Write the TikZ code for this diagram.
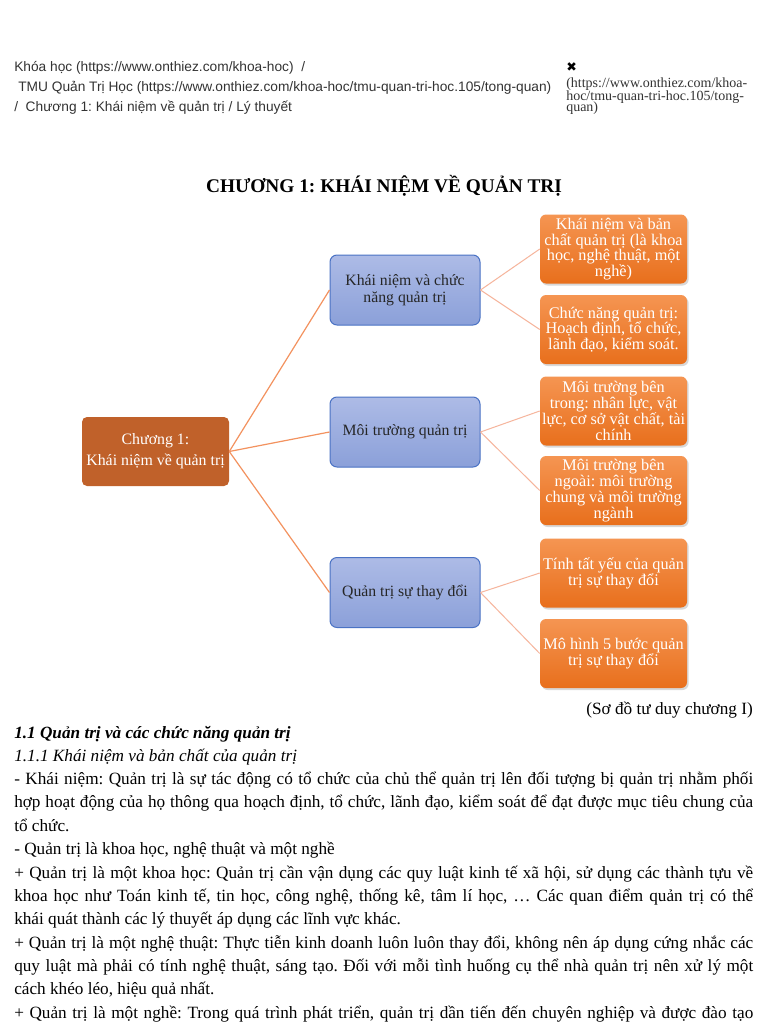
\documentclass[tikz,border=0pt]{standalone}
\usepackage{fontspec}
\setmainfont{Liberation Serif}
\newfontfamily\hdrfont{Liberation Sans}
\newfontfamily\symfont{DejaVu Sans}
\usetikzlibrary{positioning, shadows}
\newdimen\px \px=0.75pt
\definecolor{rootorange}{HTML}{C0612A}
\definecolor{topictop}{HTML}{ADBBE6}
\definecolor{topicbot}{HTML}{8BA0D9}
\definecolor{topicedge}{HTML}{4A72C4}
\definecolor{leaftop}{HTML}{F59552}
\definecolor{leafbot}{HTML}{E86F1C}
\definecolor{rootlink}{HTML}{F3925F}
\definecolor{leaflink}{HTML}{F6B59C}
\definecolor{hdrgray}{HTML}{333333}
\tikzset{
    % Mind map boxes
    root box/.style={rectangle, rounded corners=5\px, fill=rootorange, text=white,
                     minimum width=147\px, minimum height=69\px, align=center, inner sep=1pt,
                     font=\fontsize{11.9pt}{15.8pt}\selectfont},
    topic box/.style={rectangle, rounded corners=7\px, top color=topictop, bottom color=topicbot,
                      draw=topicedge, line width=1\px, minimum width=150\px, minimum height=70\px,
                      align=center, text=black!85, font=\fontsize{11.8pt}{12.8pt}\selectfont},
    leaf box/.style={rectangle, rounded corners=6\px, top color=leaftop, bottom color=leafbot,
                     text=white, minimum width=147\px, minimum height=69\px, align=center,
                     inner sep=1pt, font=\fontsize{12.2pt}{11.8pt}\selectfont,
                     drop shadow={shadow xshift=1.2pt, shadow yshift=-1.5pt, opacity=0.3}},
    % Connector styles
    root link/.style={draw=rootlink, line width=1.2\px},
    leaf link/.style={draw=leaflink, line width=1\px},
    % Text styles
    hdr/.style={font=\hdrfont\fontsize{10.3pt}{12pt}\selectfont, anchor=base west, inner sep=0pt, text=hdrgray},
    hdr side/.style={font=\fontsize{10.5pt}{9pt}\selectfont, anchor=base west, inner sep=0pt, text=hdrgray},
    body/.style={font=\fontsize{12.9pt}{15pt}\selectfont, anchor=base west, inner sep=0pt},
}
\newcommand{\jline}[1]{\makebox[739\px][s]{#1}}

\begin{document}
\frenchspacing
\begin{tikzpicture}[x=1\px, y=-1\px]
    \useasboundingbox[fill=white] (0,0) rectangle (768,1024);

    % Page header
    \node[hdr] (crumb1) at (14,72) {Khóa học (https://www.onthiez.com/khoa-hoc)\ \ /};
    \node[hdr] (crumb2) at (18,91) {TMU Quản Trị Học (https://www.onthiez.com/khoa-hoc/tmu-quan-tri-hoc.105/tong-quan)};
    \node[hdr] (crumb3) at (14,111) {/\ \ Chương 1: Khái niệm về quản trị / Lý thuyết};
    \node[hdr, font=\symfont\fontsize{9.5pt}{10pt}\selectfont, text=black] (close) at (566,72) {✖};
    \node[hdr side] (side1) at (566,88) {(https://www.onthiez.com/khoa-};
    \node[hdr side] (side2) at (566,100) {hoc/tmu-quan-tri-hoc.105/tong-};
    \node[hdr side] (side3) at (566,112) {quan)};

    % Title
    \node[anchor=base, inner sep=0pt, font=\bfseries\fontsize{14.5pt}{17pt}\selectfont] (title) at (384,192)
        {CHƯƠNG 1: KHÁI NIỆM VỀ QUẢN TRỊ};

    % Boxes
    \node[root box] (root) at (155.5,451.5) {Chương 1:\\Khái niệm về quản trị};
    \node[topic box] (concept) at (405,290) {Khái niệm và chức\\năng quản trị};
    \node[topic box] (environ) at (405,432) {Môi trường quản trị};
    \node[topic box] (change) at (405,592.5) {Quản trị sự thay đổi};
    \node[leaf box] (essence) at (613.5,249) {Khái niệm và bản\\chất quản trị (là khoa\\học, nghệ thuật, một\\nghề)};
    \node[leaf box] (functions) at (613.5,329.5) {Chức năng quản trị:\\Hoạch định, tổ chức,\\lãnh đạo, kiểm soát.};
    \node[leaf box] (inside) at (613.5,411) {Môi trường bên\\trong: nhân lực, vật\\lực, cơ sở vật chất, tài\\chính};
    \node[leaf box] (outside) at (613.5,490.5) {Môi trường bên\\ngoài: môi trường\\chung và môi trường\\ngành};
    \node[leaf box] (necessity) at (613.5,573) {Tính tất yếu của quản\\trị sự thay đổi};
    \node[leaf box] (fivestep) at (613.5,653.5) {Mô hình 5 bước quản\\trị sự thay đổi};

    % Connectors
    \draw[root link] (root.east) -- (concept.west);
    \draw[root link] (root.east) -- (environ.west);
    \draw[root link] (root.east) -- (change.west);
    \draw[leaf link] (concept.east) -- (essence.west);
    \draw[leaf link] (concept.east) -- (functions.west);
    \draw[leaf link] (environ.east) -- (inside.west);
    \draw[leaf link] (environ.east) -- (outside.west);
    \draw[leaf link] (change.east) -- (necessity.west);
    \draw[leaf link] (change.east) -- (fivestep.west);

    % Caption
    \node[body, anchor=base east] (caption) at (753,714) {(Sơ đồ tư duy chương I)};

    % Body text
    \node[body, font=\bfseries\itshape\fontsize{12.9pt}{15pt}\selectfont] (sec) at (14,738) {1.1 Quản trị và các chức năng quản trị};
    \node[body, font=\itshape\fontsize{12.9pt}{15pt}\selectfont] (subsec) at (14,761) {1.1.1 Khái niệm và bản chất của quản trị};
    \node[body] (l1) at (14,784) {\jline{- Khái niệm: Quản trị là sự tác động có tổ chức của chủ thể quản trị lên đối tượng bị quản trị nhằm phối}};
    \node[body] (l2) at (14,807) {\jline{hợp hoạt động của họ thông qua hoạch định, tổ chức, lãnh đạo, kiểm soát để đạt được mục tiêu chung của}};
    \node[body] (l3) at (14,831) {tổ chức.};
    \node[body] (l4) at (14,854) {- Quản trị là khoa học, nghệ thuật và một nghề};
    \node[body] (l5) at (14,878) {\jline{+ Quản trị là một khoa học: Quản trị cần vận dụng các quy luật kinh tế xã hội, sử dụng các thành tựu về}};
    \node[body] (l6) at (14,901) {\jline{khoa học như Toán kinh tế, tin học, công nghệ, thống kê, tâm lí học, … Các quan điểm quản trị có thể}};
    \node[body] (l7) at (14,924) {khái quát thành các lý thuyết áp dụng các lĩnh vực khác.};
    \node[body] (l8) at (14,948) {\jline{+ Quản trị là một nghệ thuật: Thực tiễn kinh doanh luôn luôn thay đổi, không nên áp dụng cứng nhắc các}};
    \node[body] (l9) at (14,971) {\jline{quy luật mà phải có tính nghệ thuật, sáng tạo. Đối với mỗi tình huống cụ thể nhà quản trị nên xử lý một}};
    \node[body] (l10) at (14,994) {cách khéo léo, hiệu quả nhất.};
    \node[body] (l11) at (14,1018) {\jline{+ Quản trị là một nghề: Trong quá trình phát triển, quản trị dần tiến đến chuyên nghiệp và được đào tạo}};
\end{tikzpicture}
\end{document}
